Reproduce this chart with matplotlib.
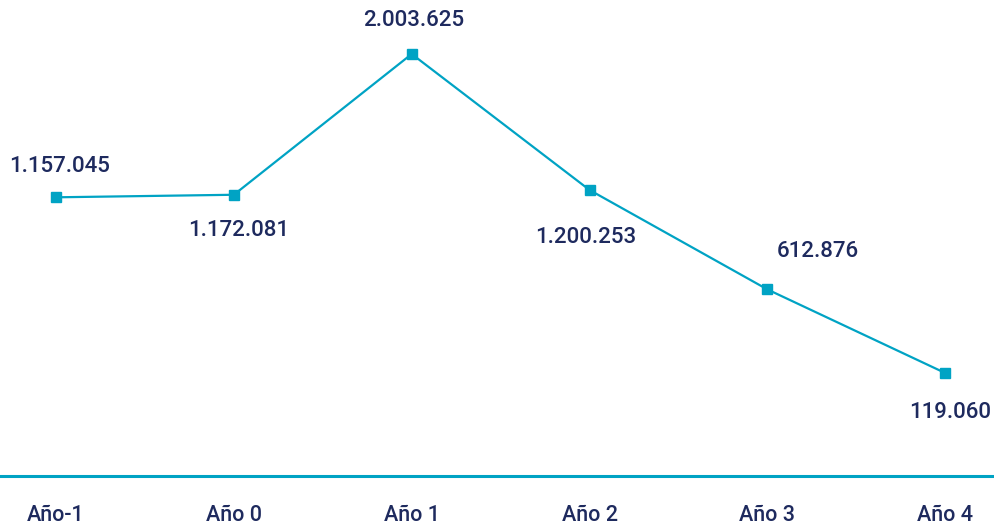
import matplotlib
matplotlib.use("Agg")
import matplotlib.pyplot as plt

# yearly figures
years = ["Año-1", "Año 0", "Año 1", "Año 2", "Año 3", "Año 4"]
values = [1157045, 1172081, 2003625, 1200253, 612876, 119060]
labels = ["1.157.045", "1.172.081", "2.003.625", "1.200.253", "612.876", "119.060"]
# label offsets in pixels relative to each point
offsets = [(4, 31), (5, -36), (2, 34), (-4, -48), (50, 38), (5, -39)]

line_c = "#00A3C4"
text_c = "#1E2A5E"

plt.rcParams['font.family'] = ['Roboto', 'DejaVu Sans']

fig = plt.figure(figsize=(9.95, 5.25), dpi=100)
ax = fig.add_axes([0, 0.0933, 1, 0.9067])

x = list(range(len(years)))
ax.plot(x, values, color=line_c, lw=1.6, marker="s", ms=7,
        markerfacecolor=line_c, markeredgecolor=line_c, zorder=3)

for xi, v, lab, off in zip(x, values, labels, offsets):
    ax.annotate(lab, (xi, v), xytext=off, textcoords="offset pixels",
                ha="center", va="center", fontsize=16, fontweight="medium",
                color=text_c)

ax.set_xlim(-0.315, 5.28)
ax.set_ylim(-489433, 2322641)
ax.set_xticks(x)
ax.set_xticklabels(years, fontsize=15.5, fontweight="medium", color=text_c)
ax.tick_params(axis="x", length=0, pad=21)
ax.set_yticks([])
for s in ["top", "left", "right"]:
    ax.spines[s].set_visible(False)
ax.spines["bottom"].set_color(line_c)
ax.spines["bottom"].set_linewidth(2.2)
ax.patch.set_alpha(0)

fig.savefig("out.png", dpi=100)
